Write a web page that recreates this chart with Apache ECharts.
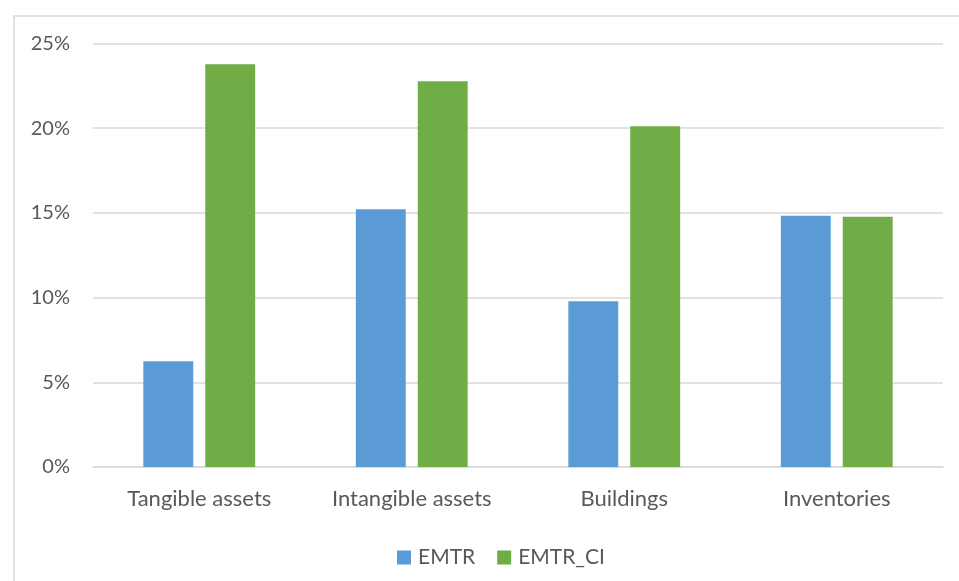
<!DOCTYPE html>
<html>
<head>
<meta charset="utf-8">
<script src="https://cdn.jsdelivr.net/npm/echarts@6/dist/echarts.min.js"></script>
<style>
  html, body { margin: 0; padding: 0; background: #ffffff; }
  #chart { width: 959px; height: 581px; }
</style>
</head>
<body>
<div id="chart"></div>
<script>
// Categories and effective marginal tax rates (percent)
const categories = ['Tangible assets', 'Intangible assets', 'Buildings', 'Inventories'];
const emtr = [6.25, 15.22, 9.79, 14.83];
const emtrCi = [23.78, 22.77, 20.12, 14.77];
const yTicks = [0, 5, 10, 15, 20, 25];

const textColor = '#595959';
const fontFamily = 'Lato, "Open Sans", sans-serif';

const chart = echarts.init(document.getElementById('chart'));
chart.setOption({
  animation: false,
  backgroundColor: '#ffffff',
  graphic: [{
    type: 'rect',
    left: 11.5, top: 13.5,
    shape: { width: 960, height: 600 },
    style: { fill: 'none', stroke: '#D9D9D9', lineWidth: 1.5 },
    silent: true
  }],
  grid: { left: 93, right: 16, top: 43.5, bottom: 114, containLabel: false },
  legend: {
    top: 542,
    left: 392,
    itemWidth: 14, itemHeight: 14, itemGap: 22,
    icon: 'rect',
    textStyle: { color: textColor, fontSize: 21, fontFamily: fontFamily, padding: [0, 0, 0, 2] },
    data: ['EMTR', 'EMTR_CI']
  },
  xAxis: {
    type: 'category',
    data: categories,
    axisLine: { lineStyle: { color: '#D9D9D9', width: 1.5 } },
    axisTick: { show: false },
    axisLabel: { color: textColor, fontSize: 22, fontFamily: fontFamily, margin: 21 }
  },
  yAxis: {
    type: 'value',
    min: yTicks[0], max: yTicks[yTicks.length - 1], interval: 5,
    axisLine: { show: false },
    axisTick: { show: false },
    splitLine: { lineStyle: { color: '#D9D9D9', width: 1.5 } },
    axisLabel: { color: textColor, fontSize: 20, fontFamily: fontFamily, margin: 23,
      formatter: v => v + '%' }
  },
  series: [
    { name: 'EMTR', type: 'bar', data: emtr, barWidth: '23.5%', barGap: '24%',
      itemStyle: { color: '#5B9BD5' } },
    { name: 'EMTR_CI', type: 'bar', data: emtrCi, barWidth: '23.5%', barGap: '24%',
      itemStyle: { color: '#70AD47' } }
  ]
});
</script>
</body>
</html>
